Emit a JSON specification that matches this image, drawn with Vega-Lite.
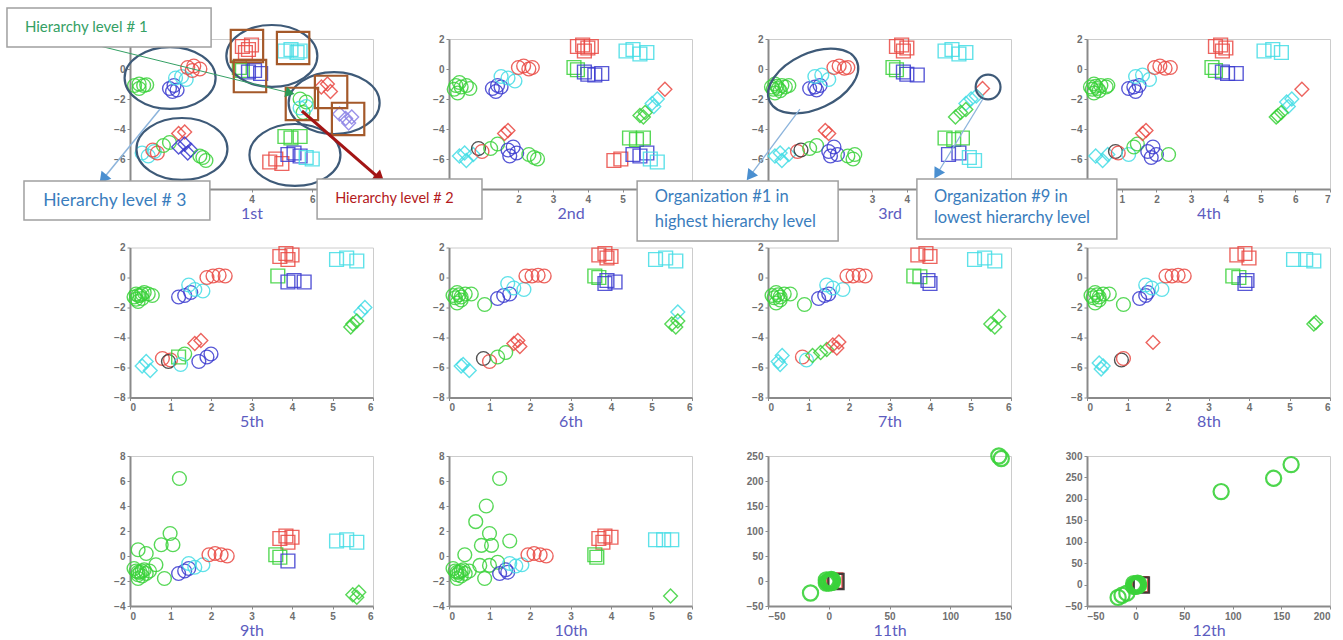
{
"$schema": "https://vega.github.io/schema/vega-lite/v6.json",
"background": "white",
"padding": {"left": 5, "top": 6, "right": 0, "bottom": 0},
"bounds": "flush",
"columns": 4,
"spacing": {"row": 58.5, "column": 76},
"config": {
  "view": {"stroke": "#cccccc", "strokeWidth": 1},
  "font": "Lato",
  "axis": {"grid": false, "domainColor": "#8a8a8a", "domainWidth": 2, "tickColor": "#8a8a8a", "tickSize": 3, "labelColor": "#6f6f6f", "labelFont": "Liberation Sans", "labelFontSize": 10, "labelFontWeight": "bold", "labelPadding": 2, "titleColor": "#5c5cc0", "titleFont": "Lato", "titleFontSize": 16, "titleFontWeight": "normal", "titlePadding": 1}
},
"datasets": {
  "pts": [
    {"p":1,"x":0.15,"y":-1.1,"c":"g","m":"circle"},{"p":1,"x":0.3,"y":-1.0,"c":"g","m":"circle"},{"p":1,"x":0.45,"y":-1.1,"c":"g","m":"circle"},{"p":1,"x":0.55,"y":-1.05,"c":"g","m":"circle"},{"p":1,"x":0.3,"y":-1.3,"c":"g","m":"circle"},
    {"p":1,"x":1.3,"y":-1.3,"c":"b","m":"circle"},{"p":1,"x":1.45,"y":-1.1,"c":"b","m":"circle"},{"p":1,"x":1.55,"y":-1.4,"c":"b","m":"circle"},{"p":1,"x":1.4,"y":-1.5,"c":"b","m":"circle"},
    {"p":1,"x":1.5,"y":-0.6,"c":"c","m":"circle"},{"p":1,"x":1.7,"y":-0.5,"c":"c","m":"circle"},{"p":1,"x":1.85,"y":-0.7,"c":"c","m":"circle"},
    {"p":1,"x":1.9,"y":0.1,"c":"r","m":"circle"},{"p":1,"x":2.1,"y":0.2,"c":"r","m":"circle"},{"p":1,"x":2.3,"y":0.0,"c":"r","m":"circle"},{"p":1,"x":2.05,"y":-0.1,"c":"r","m":"circle"},
    {"p":1,"x":0.4,"y":-5.6,"c":"c","m":"circle"},{"p":1,"x":0.6,"y":-5.8,"c":"c","m":"circle"},{"p":1,"x":0.8,"y":-5.5,"c":"c","m":"circle"},
    {"p":1,"x":0.75,"y":-5.4,"c":"r","m":"circle"},{"p":1,"x":0.9,"y":-5.6,"c":"r","m":"circle"},
    {"p":1,"x":1.1,"y":-5.1,"c":"g","m":"circle"},{"p":1,"x":1.3,"y":-4.9,"c":"g","m":"circle"},
    {"p":1,"x":1.6,"y":-4.3,"c":"r","m":"diamond"},{"p":1,"x":1.8,"y":-4.2,"c":"r","m":"diamond"},
    {"p":1,"x":1.6,"y":-5.2,"c":"b","m":"diamond"},{"p":1,"x":1.8,"y":-5.0,"c":"b","m":"diamond"},{"p":1,"x":2.0,"y":-5.4,"c":"b","m":"diamond"},{"p":1,"x":1.9,"y":-5.6,"c":"b","m":"diamond"},
    {"p":1,"x":2.3,"y":-5.8,"c":"g","m":"circle"},{"p":1,"x":2.5,"y":-6.1,"c":"g","m":"circle"},{"p":1,"x":2.4,"y":-5.9,"c":"g","m":"circle"},
    {"p":1,"x":3.7,"y":1.5,"c":"r","m":"square"},{"p":1,"x":3.9,"y":1.3,"c":"r","m":"square"},{"p":1,"x":4.0,"y":1.6,"c":"r","m":"square"},{"p":1,"x":3.8,"y":1.1,"c":"r","m":"square"},
    {"p":1,"x":5.1,"y":1.2,"c":"c","m":"square"},{"p":1,"x":5.3,"y":1.3,"c":"c","m":"square"},{"p":1,"x":5.5,"y":1.1,"c":"c","m":"square"},{"p":1,"x":5.6,"y":1.2,"c":"c","m":"square"},
    {"p":1,"x":3.6,"y":0.1,"c":"g","m":"square"},{"p":1,"x":3.7,"y":-0.1,"c":"g","m":"square"},
    {"p":1,"x":3.9,"y":-0.2,"c":"b","m":"square"},{"p":1,"x":4.1,"y":-0.1,"c":"b","m":"square"},{"p":1,"x":4.3,"y":-0.3,"c":"b","m":"square"},
    {"p":1,"x":5.6,"y":-2.0,"c":"g","m":"circle"},{"p":1,"x":5.8,"y":-2.2,"c":"g","m":"circle"},{"p":1,"x":5.7,"y":-2.9,"c":"g","m":"circle"},
    {"p":1,"x":5.6,"y":-2.6,"c":"c","m":"circle"},{"p":1,"x":5.8,"y":-2.5,"c":"c","m":"circle"},
    {"p":1,"x":6.3,"y":-1.2,"c":"r","m":"diamond"},{"p":1,"x":6.5,"y":-1.0,"c":"r","m":"diamond"},{"p":1,"x":6.6,"y":-1.5,"c":"r","m":"diamond"},
    {"p":1,"x":6.9,"y":-3.0,"c":"pu","m":"diamond"},{"p":1,"x":7.1,"y":-3.3,"c":"pu","m":"diamond"},{"p":1,"x":7.3,"y":-3.2,"c":"pu","m":"diamond"},{"p":1,"x":7.2,"y":-3.6,"c":"pu","m":"diamond"},
    {"p":1,"x":5.1,"y":-4.5,"c":"g","m":"square"},{"p":1,"x":5.3,"y":-4.6,"c":"g","m":"square"},{"p":1,"x":5.6,"y":-4.5,"c":"g","m":"square"},
    {"p":1,"x":4.6,"y":-6.2,"c":"r","m":"square"},{"p":1,"x":4.8,"y":-6.0,"c":"r","m":"square"},{"p":1,"x":5.0,"y":-6.3,"c":"r","m":"square"},
    {"p":1,"x":5.2,"y":-5.7,"c":"b","m":"square"},{"p":1,"x":5.4,"y":-5.6,"c":"b","m":"square"},{"p":1,"x":5.6,"y":-5.8,"c":"b","m":"square"},
    {"p":1,"x":5.8,"y":-5.9,"c":"c","m":"square"},{"p":1,"x":6.0,"y":-6.0,"c":"c","m":"square"},

    {"p":2,"x":0.2,"y":-1.1,"c":"g","m":"circle"},{"p":2,"x":0.35,"y":-1.2,"c":"g","m":"circle"},{"p":2,"x":0.5,"y":-1.1,"c":"g","m":"circle"},{"p":2,"x":0.25,"y":-1.6,"c":"g","m":"circle"},{"p":2,"x":0.6,"y":-1.3,"c":"g","m":"circle"},{"p":2,"x":0.3,"y":-0.9,"c":"g","m":"circle"},{"p":2,"x":0.15,"y":-1.35,"c":"g","m":"circle"},
    {"p":2,"x":1.25,"y":-1.3,"c":"b","m":"circle"},{"p":2,"x":1.4,"y":-1.1,"c":"b","m":"circle"},{"p":2,"x":1.5,"y":-1.2,"c":"b","m":"circle"},{"p":2,"x":1.35,"y":-1.5,"c":"b","m":"circle"},
    {"p":2,"x":1.5,"y":-0.5,"c":"c","m":"circle"},{"p":2,"x":1.7,"y":-0.6,"c":"c","m":"circle"},{"p":2,"x":1.9,"y":-0.8,"c":"c","m":"circle"},
    {"p":2,"x":2.0,"y":0.1,"c":"r","m":"circle"},{"p":2,"x":2.15,"y":0.2,"c":"r","m":"circle"},{"p":2,"x":2.3,"y":0.0,"c":"r","m":"circle"},{"p":2,"x":2.4,"y":0.1,"c":"r","m":"circle"},
    {"p":2,"x":0.3,"y":-5.8,"c":"c","m":"diamond"},{"p":2,"x":0.5,"y":-6.1,"c":"c","m":"diamond"},{"p":2,"x":0.7,"y":-5.7,"c":"c","m":"diamond"},{"p":2,"x":0.45,"y":-5.6,"c":"c","m":"diamond"},
    {"p":2,"x":0.85,"y":-5.3,"c":"k","m":"circle"},{"p":2,"x":0.95,"y":-5.5,"c":"r","m":"circle"},
    {"p":2,"x":1.2,"y":-5.3,"c":"g","m":"circle"},{"p":2,"x":1.4,"y":-5.0,"c":"g","m":"circle"},
    {"p":2,"x":1.6,"y":-4.3,"c":"r","m":"diamond"},{"p":2,"x":1.7,"y":-4.1,"c":"r","m":"diamond"},
    {"p":2,"x":1.7,"y":-5.4,"c":"b","m":"circle"},{"p":2,"x":1.85,"y":-5.2,"c":"b","m":"circle"},{"p":2,"x":1.95,"y":-5.6,"c":"b","m":"circle"},{"p":2,"x":1.75,"y":-5.8,"c":"b","m":"circle"},
    {"p":2,"x":2.3,"y":-5.7,"c":"g","m":"circle"},{"p":2,"x":2.45,"y":-5.9,"c":"g","m":"circle"},{"p":2,"x":2.55,"y":-6.0,"c":"g","m":"circle"},
    {"p":2,"x":3.7,"y":1.5,"c":"r","m":"square"},{"p":2,"x":3.85,"y":1.6,"c":"r","m":"square"},{"p":2,"x":4.0,"y":1.4,"c":"r","m":"square"},{"p":2,"x":3.9,"y":1.2,"c":"r","m":"square"},{"p":2,"x":4.1,"y":1.5,"c":"r","m":"square"},
    {"p":2,"x":3.6,"y":0.1,"c":"g","m":"square"},{"p":2,"x":3.7,"y":-0.05,"c":"g","m":"square"},
    {"p":2,"x":3.9,"y":-0.2,"c":"b","m":"square"},{"p":2,"x":4.0,"y":-0.35,"c":"b","m":"square"},{"p":2,"x":4.2,"y":-0.4,"c":"b","m":"square"},{"p":2,"x":4.4,"y":-0.3,"c":"b","m":"square"},
    {"p":2,"x":5.1,"y":1.2,"c":"c","m":"square"},{"p":2,"x":5.3,"y":1.3,"c":"c","m":"square"},{"p":2,"x":5.5,"y":1.0,"c":"c","m":"square"},{"p":2,"x":5.7,"y":1.1,"c":"c","m":"square"},
    {"p":2,"x":6.22,"y":-1.35,"c":"r","m":"diamond"},
    {"p":2,"x":5.85,"y":-2.3,"c":"c","m":"diamond"},{"p":2,"x":6.0,"y":-2.0,"c":"c","m":"diamond"},{"p":2,"x":5.9,"y":-2.5,"c":"c","m":"diamond"},
    {"p":2,"x":5.5,"y":-3.1,"c":"g","m":"diamond"},{"p":2,"x":5.65,"y":-2.9,"c":"g","m":"diamond"},{"p":2,"x":5.6,"y":-3.2,"c":"g","m":"diamond"},
    {"p":2,"x":5.2,"y":-4.6,"c":"g","m":"square"},{"p":2,"x":5.4,"y":-4.7,"c":"g","m":"square"},{"p":2,"x":5.6,"y":-4.6,"c":"g","m":"square"},
    {"p":2,"x":4.75,"y":-6.1,"c":"r","m":"square"},{"p":2,"x":4.95,"y":-6.0,"c":"r","m":"square"},
    {"p":2,"x":5.3,"y":-5.7,"c":"b","m":"square"},{"p":2,"x":5.5,"y":-5.8,"c":"b","m":"square"},{"p":2,"x":5.7,"y":-5.6,"c":"b","m":"square"},
    {"p":2,"x":5.8,"y":-6.0,"c":"c","m":"square"},{"p":2,"x":6.0,"y":-6.2,"c":"c","m":"square"},

    {"p":3,"x":0.1,"y":-1.2,"c":"g","m":"circle"},{"p":3,"x":0.2,"y":-1.0,"c":"g","m":"circle"},{"p":3,"x":0.3,"y":-1.3,"c":"g","m":"circle"},{"p":3,"x":0.4,"y":-1.1,"c":"g","m":"circle"},{"p":3,"x":0.5,"y":-1.2,"c":"g","m":"circle"},{"p":3,"x":0.2,"y":-1.6,"c":"g","m":"circle"},{"p":3,"x":0.6,"y":-1.1,"c":"g","m":"circle"},{"p":3,"x":0.15,"y":-1.35,"c":"g","m":"circle"},{"p":3,"x":0.25,"y":-1.15,"c":"g","m":"circle"},{"p":3,"x":0.35,"y":-1.45,"c":"g","m":"circle"},
    {"p":3,"x":1.2,"y":-1.3,"c":"b","m":"circle"},{"p":3,"x":1.35,"y":-1.2,"c":"b","m":"circle"},{"p":3,"x":1.5,"y":-1.1,"c":"b","m":"circle"},{"p":3,"x":1.4,"y":-1.4,"c":"b","m":"circle"},
    {"p":3,"x":1.35,"y":-0.5,"c":"c","m":"circle"},{"p":3,"x":1.55,"y":-0.4,"c":"c","m":"circle"},{"p":3,"x":1.75,"y":-0.7,"c":"c","m":"circle"},
    {"p":3,"x":1.9,"y":0.1,"c":"r","m":"circle"},{"p":3,"x":2.05,"y":0.2,"c":"r","m":"circle"},{"p":3,"x":2.2,"y":0.05,"c":"r","m":"circle"},{"p":3,"x":2.3,"y":0.1,"c":"r","m":"circle"},
    {"p":3,"x":0.2,"y":-5.8,"c":"c","m":"diamond"},{"p":3,"x":0.4,"y":-6.1,"c":"c","m":"diamond"},{"p":3,"x":0.6,"y":-5.7,"c":"c","m":"diamond"},{"p":3,"x":0.35,"y":-5.6,"c":"c","m":"diamond"},
    {"p":3,"x":0.85,"y":-5.5,"c":"r","m":"circle"},{"p":3,"x":0.95,"y":-5.4,"c":"k","m":"circle"},
    {"p":3,"x":1.2,"y":-5.3,"c":"g","m":"circle"},{"p":3,"x":1.4,"y":-5.1,"c":"g","m":"circle"},
    {"p":3,"x":1.65,"y":-4.1,"c":"r","m":"diamond"},{"p":3,"x":1.75,"y":-4.3,"c":"r","m":"diamond"},
    {"p":3,"x":1.75,"y":-5.5,"c":"b","m":"circle"},{"p":3,"x":1.9,"y":-5.2,"c":"b","m":"circle"},{"p":3,"x":2.0,"y":-5.7,"c":"b","m":"circle"},{"p":3,"x":1.8,"y":-5.8,"c":"b","m":"circle"},
    {"p":3,"x":2.3,"y":-5.8,"c":"g","m":"circle"},{"p":3,"x":2.45,"y":-6.0,"c":"g","m":"circle"},{"p":3,"x":2.5,"y":-5.7,"c":"g","m":"circle"},
    {"p":3,"x":3.7,"y":1.5,"c":"r","m":"square"},{"p":3,"x":3.85,"y":1.6,"c":"r","m":"square"},{"p":3,"x":4.0,"y":1.4,"c":"r","m":"square"},{"p":3,"x":3.9,"y":1.2,"c":"r","m":"square"},
    {"p":3,"x":3.6,"y":0.1,"c":"g","m":"square"},{"p":3,"x":3.7,"y":-0.05,"c":"g","m":"square"},
    {"p":3,"x":3.9,"y":-0.2,"c":"b","m":"square"},{"p":3,"x":4.0,"y":-0.35,"c":"b","m":"square"},{"p":3,"x":4.3,"y":-0.4,"c":"b","m":"square"},
    {"p":3,"x":5.1,"y":1.2,"c":"c","m":"square"},{"p":3,"x":5.3,"y":1.3,"c":"c","m":"square"},{"p":3,"x":5.5,"y":1.0,"c":"c","m":"square"},{"p":3,"x":5.7,"y":1.1,"c":"c","m":"square"},
    {"p":3,"x":6.18,"y":-1.3,"c":"r","m":"diamond"},
    {"p":3,"x":5.7,"y":-2.3,"c":"c","m":"diamond"},{"p":3,"x":5.85,"y":-2.0,"c":"c","m":"diamond"},{"p":3,"x":6.0,"y":-1.8,"c":"c","m":"diamond"},
    {"p":3,"x":5.4,"y":-3.2,"c":"g","m":"diamond"},{"p":3,"x":5.55,"y":-2.9,"c":"g","m":"diamond"},{"p":3,"x":5.7,"y":-2.7,"c":"g","m":"diamond"},
    {"p":3,"x":5.1,"y":-4.6,"c":"g","m":"square"},{"p":3,"x":5.35,"y":-4.7,"c":"g","m":"square"},{"p":3,"x":5.6,"y":-4.6,"c":"g","m":"square"},
    {"p":3,"x":5.2,"y":-5.7,"c":"b","m":"square"},{"p":3,"x":5.5,"y":-5.6,"c":"b","m":"square"},
    {"p":3,"x":5.8,"y":-5.9,"c":"c","m":"square"},{"p":3,"x":5.95,"y":-6.1,"c":"c","m":"square"},

    {"p":4,"x":0.1,"y":-1.2,"c":"g","m":"circle"},{"p":4,"x":0.2,"y":-1.0,"c":"g","m":"circle"},{"p":4,"x":0.3,"y":-1.3,"c":"g","m":"circle"},{"p":4,"x":0.4,"y":-1.1,"c":"g","m":"circle"},{"p":4,"x":0.55,"y":-1.2,"c":"g","m":"circle"},{"p":4,"x":0.2,"y":-1.6,"c":"g","m":"circle"},{"p":4,"x":0.6,"y":-1.1,"c":"g","m":"circle"},{"p":4,"x":0.15,"y":-1.35,"c":"g","m":"circle"},{"p":4,"x":0.25,"y":-1.15,"c":"g","m":"circle"},{"p":4,"x":0.35,"y":-1.45,"c":"g","m":"circle"},
    {"p":4,"x":1.2,"y":-1.3,"c":"b","m":"circle"},{"p":4,"x":1.35,"y":-1.2,"c":"b","m":"circle"},{"p":4,"x":1.5,"y":-1.1,"c":"b","m":"circle"},{"p":4,"x":1.4,"y":-1.5,"c":"b","m":"circle"},
    {"p":4,"x":1.4,"y":-0.5,"c":"c","m":"circle"},{"p":4,"x":1.6,"y":-0.4,"c":"c","m":"circle"},{"p":4,"x":1.8,"y":-0.7,"c":"c","m":"circle"},
    {"p":4,"x":1.95,"y":0.1,"c":"r","m":"circle"},{"p":4,"x":2.1,"y":0.2,"c":"r","m":"circle"},{"p":4,"x":2.25,"y":0.05,"c":"r","m":"circle"},{"p":4,"x":2.4,"y":0.1,"c":"r","m":"circle"},
    {"p":4,"x":0.25,"y":-5.8,"c":"c","m":"diamond"},{"p":4,"x":0.45,"y":-6.1,"c":"c","m":"diamond"},{"p":4,"x":0.6,"y":-5.7,"c":"c","m":"diamond"},
    {"p":4,"x":0.82,"y":-5.5,"c":"k","m":"circle"},{"p":4,"x":0.9,"y":-5.6,"c":"r","m":"circle"},{"p":4,"x":1.2,"y":-5.7,"c":"c","m":"circle"},
    {"p":4,"x":1.35,"y":-5.2,"c":"g","m":"circle"},{"p":4,"x":1.45,"y":-5.0,"c":"g","m":"circle"},
    {"p":4,"x":1.6,"y":-4.3,"c":"r","m":"diamond"},{"p":4,"x":1.7,"y":-4.1,"c":"r","m":"diamond"},
    {"p":4,"x":1.75,"y":-5.5,"c":"b","m":"circle"},{"p":4,"x":1.9,"y":-5.2,"c":"b","m":"circle"},{"p":4,"x":2.0,"y":-5.7,"c":"b","m":"circle"},{"p":4,"x":1.85,"y":-5.9,"c":"b","m":"circle"},
    {"p":4,"x":2.35,"y":-5.7,"c":"g","m":"circle"},
    {"p":4,"x":3.7,"y":1.5,"c":"r","m":"square"},{"p":4,"x":3.85,"y":1.6,"c":"r","m":"square"},{"p":4,"x":4.0,"y":1.4,"c":"r","m":"square"},{"p":4,"x":3.9,"y":1.2,"c":"r","m":"square"},
    {"p":4,"x":3.6,"y":0.1,"c":"g","m":"square"},{"p":4,"x":3.7,"y":-0.1,"c":"g","m":"square"},
    {"p":4,"x":3.9,"y":-0.2,"c":"b","m":"square"},{"p":4,"x":4.05,"y":-0.3,"c":"b","m":"square"},{"p":4,"x":4.3,"y":-0.3,"c":"b","m":"square"},
    {"p":4,"x":5.1,"y":1.2,"c":"c","m":"square"},{"p":4,"x":5.35,"y":1.3,"c":"c","m":"square"},{"p":4,"x":5.6,"y":1.1,"c":"c","m":"square"},
    {"p":4,"x":6.19,"y":-1.35,"c":"r","m":"diamond"},
    {"p":4,"x":5.75,"y":-2.2,"c":"c","m":"diamond"},{"p":4,"x":5.9,"y":-2.0,"c":"c","m":"diamond"},{"p":4,"x":5.8,"y":-2.5,"c":"c","m":"diamond"},
    {"p":4,"x":5.5,"y":-3.1,"c":"g","m":"diamond"},{"p":4,"x":5.6,"y":-2.9,"c":"g","m":"diamond"},{"p":4,"x":5.45,"y":-3.2,"c":"g","m":"diamond"},

    {"p":5,"x":0.15,"y":-1.1,"c":"g","m":"circle"},{"p":5,"x":0.25,"y":-1.2,"c":"g","m":"circle"},{"p":5,"x":0.35,"y":-1.0,"c":"g","m":"circle"},{"p":5,"x":0.45,"y":-1.1,"c":"g","m":"circle"},{"p":5,"x":0.2,"y":-1.6,"c":"g","m":"circle"},{"p":5,"x":0.55,"y":-1.2,"c":"g","m":"circle"},{"p":5,"x":0.3,"y":-1.4,"c":"g","m":"circle"},{"p":5,"x":0.1,"y":-1.3,"c":"g","m":"circle"},{"p":5,"x":0.2,"y":-1.2,"c":"g","m":"circle"},{"p":5,"x":0.3,"y":-1.1,"c":"g","m":"circle"},{"p":5,"x":0.15,"y":-1.45,"c":"g","m":"circle"},
    {"p":5,"x":1.2,"y":-1.3,"c":"b","m":"circle"},{"p":5,"x":1.35,"y":-1.2,"c":"b","m":"circle"},{"p":5,"x":1.5,"y":-1.0,"c":"b","m":"circle"},
    {"p":5,"x":1.45,"y":-0.5,"c":"c","m":"circle"},{"p":5,"x":1.6,"y":-0.8,"c":"c","m":"circle"},{"p":5,"x":1.8,"y":-0.9,"c":"c","m":"circle"},
    {"p":5,"x":1.9,"y":0.0,"c":"r","m":"circle"},{"p":5,"x":2.05,"y":0.1,"c":"r","m":"circle"},{"p":5,"x":2.2,"y":0.15,"c":"r","m":"circle"},{"p":5,"x":2.35,"y":0.1,"c":"r","m":"circle"},
    {"p":5,"x":0.3,"y":-5.9,"c":"c","m":"diamond"},{"p":5,"x":0.5,"y":-6.2,"c":"c","m":"diamond"},{"p":5,"x":0.4,"y":-5.6,"c":"c","m":"diamond"},
    {"p":5,"x":0.8,"y":-5.4,"c":"r","m":"circle"},{"p":5,"x":1.0,"y":-5.5,"c":"r","m":"circle"},{"p":5,"x":0.95,"y":-5.6,"c":"k","m":"circle"},
    {"p":5,"x":1.2,"y":-5.3,"c":"g","m":"square"},{"p":5,"x":1.35,"y":-5.1,"c":"g","m":"circle"},{"p":5,"x":1.25,"y":-5.8,"c":"c","m":"circle"},
    {"p":5,"x":1.6,"y":-4.4,"c":"r","m":"diamond"},{"p":5,"x":1.75,"y":-4.2,"c":"r","m":"diamond"},
    {"p":5,"x":1.7,"y":-5.6,"c":"b","m":"circle"},{"p":5,"x":1.9,"y":-5.3,"c":"b","m":"circle"},{"p":5,"x":2.0,"y":-5.1,"c":"b","m":"circle"},
    {"p":5,"x":3.7,"y":1.4,"c":"r","m":"square"},{"p":5,"x":3.85,"y":1.6,"c":"r","m":"square"},{"p":5,"x":4.0,"y":1.5,"c":"r","m":"square"},{"p":5,"x":3.9,"y":1.2,"c":"r","m":"square"},
    {"p":5,"x":3.65,"y":0.1,"c":"g","m":"square"},
    {"p":5,"x":3.9,"y":-0.3,"c":"b","m":"square"},{"p":5,"x":4.05,"y":-0.2,"c":"b","m":"square"},{"p":5,"x":4.3,"y":-0.3,"c":"b","m":"square"},
    {"p":5,"x":5.1,"y":1.2,"c":"c","m":"square"},{"p":5,"x":5.35,"y":1.3,"c":"c","m":"square"},{"p":5,"x":5.6,"y":1.1,"c":"c","m":"square"},
    {"p":5,"x":5.8,"y":-2.0,"c":"c","m":"diamond"},{"p":5,"x":5.7,"y":-2.3,"c":"c","m":"diamond"},
    {"p":5,"x":5.5,"y":-3.1,"c":"g","m":"diamond"},{"p":5,"x":5.6,"y":-2.9,"c":"g","m":"diamond"},{"p":5,"x":5.45,"y":-3.3,"c":"g","m":"diamond"},

    {"p":6,"x":0.1,"y":-1.2,"c":"g","m":"circle"},{"p":6,"x":0.2,"y":-1.0,"c":"g","m":"circle"},{"p":6,"x":0.3,"y":-1.3,"c":"g","m":"circle"},{"p":6,"x":0.4,"y":-1.1,"c":"g","m":"circle"},{"p":6,"x":0.2,"y":-1.7,"c":"g","m":"circle"},{"p":6,"x":0.55,"y":-1.1,"c":"g","m":"circle"},{"p":6,"x":0.3,"y":-1.5,"c":"g","m":"circle"},{"p":6,"x":0.15,"y":-1.35,"c":"g","m":"circle"},{"p":6,"x":0.25,"y":-1.15,"c":"g","m":"circle"},{"p":6,"x":0.88,"y":-1.8,"c":"g","m":"circle"},
    {"p":6,"x":1.2,"y":-1.4,"c":"b","m":"circle"},{"p":6,"x":1.35,"y":-1.2,"c":"b","m":"circle"},{"p":6,"x":1.5,"y":-1.1,"c":"b","m":"circle"},
    {"p":6,"x":1.45,"y":-0.4,"c":"c","m":"circle"},{"p":6,"x":1.6,"y":-0.7,"c":"c","m":"circle"},{"p":6,"x":1.85,"y":-0.8,"c":"c","m":"circle"},
    {"p":6,"x":1.9,"y":0.1,"c":"r","m":"circle"},{"p":6,"x":2.05,"y":0.1,"c":"r","m":"circle"},{"p":6,"x":2.2,"y":0.15,"c":"r","m":"circle"},{"p":6,"x":2.35,"y":0.1,"c":"r","m":"circle"},
    {"p":6,"x":0.3,"y":-5.9,"c":"c","m":"diamond"},{"p":6,"x":0.5,"y":-6.2,"c":"c","m":"diamond"},{"p":6,"x":0.35,"y":-5.8,"c":"c","m":"diamond"},
    {"p":6,"x":0.85,"y":-5.4,"c":"k","m":"circle"},{"p":6,"x":1.0,"y":-5.6,"c":"r","m":"circle"},
    {"p":6,"x":1.2,"y":-5.3,"c":"g","m":"circle"},{"p":6,"x":1.4,"y":-5.0,"c":"g","m":"circle"},
    {"p":6,"x":1.6,"y":-4.4,"c":"r","m":"diamond"},{"p":6,"x":1.7,"y":-4.2,"c":"r","m":"diamond"},{"p":6,"x":1.75,"y":-4.6,"c":"r","m":"diamond"},
    {"p":6,"x":3.7,"y":1.5,"c":"r","m":"square"},{"p":6,"x":3.85,"y":1.6,"c":"r","m":"square"},{"p":6,"x":4.0,"y":1.4,"c":"r","m":"square"},{"p":6,"x":3.9,"y":1.3,"c":"r","m":"square"},
    {"p":6,"x":3.6,"y":0.1,"c":"g","m":"square"},{"p":6,"x":3.7,"y":0.0,"c":"g","m":"square"},
    {"p":6,"x":3.9,"y":-0.2,"c":"b","m":"square"},{"p":6,"x":4.1,"y":-0.3,"c":"b","m":"square"},{"p":6,"x":3.85,"y":-0.4,"c":"b","m":"square"},
    {"p":6,"x":5.1,"y":1.2,"c":"c","m":"square"},{"p":6,"x":5.35,"y":1.3,"c":"c","m":"square"},{"p":6,"x":5.6,"y":1.1,"c":"c","m":"square"},
    {"p":6,"x":5.65,"y":-2.3,"c":"c","m":"diamond"},
    {"p":6,"x":5.5,"y":-3.1,"c":"g","m":"diamond"},{"p":6,"x":5.65,"y":-2.9,"c":"g","m":"diamond"},{"p":6,"x":5.6,"y":-3.3,"c":"g","m":"diamond"},

    {"p":7,"x":0.1,"y":-1.2,"c":"g","m":"circle"},{"p":7,"x":0.2,"y":-1.0,"c":"g","m":"circle"},{"p":7,"x":0.3,"y":-1.3,"c":"g","m":"circle"},{"p":7,"x":0.4,"y":-1.1,"c":"g","m":"circle"},{"p":7,"x":0.2,"y":-1.7,"c":"g","m":"circle"},{"p":7,"x":0.55,"y":-1.1,"c":"g","m":"circle"},{"p":7,"x":0.3,"y":-1.5,"c":"g","m":"circle"},{"p":7,"x":0.15,"y":-1.35,"c":"g","m":"circle"},{"p":7,"x":0.25,"y":-1.15,"c":"g","m":"circle"},{"p":7,"x":0.9,"y":-1.8,"c":"g","m":"circle"},
    {"p":7,"x":1.25,"y":-1.4,"c":"b","m":"circle"},{"p":7,"x":1.4,"y":-1.2,"c":"b","m":"circle"},{"p":7,"x":1.5,"y":-1.1,"c":"b","m":"circle"},
    {"p":7,"x":1.45,"y":-0.5,"c":"c","m":"circle"},{"p":7,"x":1.6,"y":-0.7,"c":"c","m":"circle"},{"p":7,"x":1.85,"y":-0.8,"c":"c","m":"circle"},
    {"p":7,"x":1.95,"y":0.1,"c":"r","m":"circle"},{"p":7,"x":2.1,"y":0.1,"c":"r","m":"circle"},{"p":7,"x":2.25,"y":0.15,"c":"r","m":"circle"},{"p":7,"x":2.4,"y":0.1,"c":"r","m":"circle"},
    {"p":7,"x":0.25,"y":-5.6,"c":"c","m":"diamond"},{"p":7,"x":0.35,"y":-5.2,"c":"c","m":"diamond"},{"p":7,"x":0.3,"y":-5.8,"c":"c","m":"diamond"},
    {"p":7,"x":0.85,"y":-5.3,"c":"r","m":"circle"},{"p":7,"x":0.95,"y":-5.5,"c":"c","m":"circle"},
    {"p":7,"x":1.1,"y":-5.2,"c":"g","m":"diamond"},{"p":7,"x":1.3,"y":-5.0,"c":"g","m":"diamond"},{"p":7,"x":1.45,"y":-4.8,"c":"g","m":"diamond"},
    {"p":7,"x":1.6,"y":-4.5,"c":"r","m":"diamond"},{"p":7,"x":1.75,"y":-4.3,"c":"r","m":"diamond"},{"p":7,"x":1.7,"y":-4.7,"c":"r","m":"diamond"},
    {"p":7,"x":3.7,"y":1.5,"c":"r","m":"square"},{"p":7,"x":3.9,"y":1.6,"c":"r","m":"square"},{"p":7,"x":4.0,"y":1.4,"c":"r","m":"square"},
    {"p":7,"x":3.6,"y":0.1,"c":"g","m":"square"},{"p":7,"x":3.75,"y":0.05,"c":"g","m":"square"},
    {"p":7,"x":3.95,"y":-0.2,"c":"b","m":"square"},{"p":7,"x":4.0,"y":-0.4,"c":"b","m":"square"},
    {"p":7,"x":5.1,"y":1.2,"c":"c","m":"square"},{"p":7,"x":5.35,"y":1.3,"c":"c","m":"square"},{"p":7,"x":5.6,"y":1.1,"c":"c","m":"square"},
    {"p":7,"x":5.5,"y":-3.1,"c":"g","m":"diamond"},{"p":7,"x":5.7,"y":-2.6,"c":"g","m":"diamond"},{"p":7,"x":5.6,"y":-3.3,"c":"g","m":"diamond"},

    {"p":8,"x":0.1,"y":-1.2,"c":"g","m":"circle"},{"p":8,"x":0.2,"y":-1.0,"c":"g","m":"circle"},{"p":8,"x":0.3,"y":-1.3,"c":"g","m":"circle"},{"p":8,"x":0.4,"y":-1.1,"c":"g","m":"circle"},{"p":8,"x":0.2,"y":-1.7,"c":"g","m":"circle"},{"p":8,"x":0.55,"y":-1.1,"c":"g","m":"circle"},{"p":8,"x":0.3,"y":-1.5,"c":"g","m":"circle"},{"p":8,"x":0.15,"y":-1.35,"c":"g","m":"circle"},{"p":8,"x":0.25,"y":-1.15,"c":"g","m":"circle"},{"p":8,"x":0.9,"y":-1.8,"c":"g","m":"circle"},
    {"p":8,"x":1.3,"y":-1.4,"c":"b","m":"circle"},{"p":8,"x":1.45,"y":-1.2,"c":"b","m":"circle"},{"p":8,"x":1.5,"y":-1.0,"c":"b","m":"circle"},
    {"p":8,"x":1.45,"y":-0.5,"c":"c","m":"circle"},{"p":8,"x":1.6,"y":-0.7,"c":"c","m":"circle"},{"p":8,"x":1.85,"y":-0.8,"c":"c","m":"circle"},
    {"p":8,"x":1.95,"y":0.1,"c":"r","m":"circle"},{"p":8,"x":2.1,"y":0.1,"c":"r","m":"circle"},{"p":8,"x":2.25,"y":0.15,"c":"r","m":"circle"},{"p":8,"x":2.4,"y":0.1,"c":"r","m":"circle"},
    {"p":8,"x":0.3,"y":-5.7,"c":"c","m":"diamond"},{"p":8,"x":0.35,"y":-6.1,"c":"c","m":"diamond"},{"p":8,"x":0.4,"y":-5.9,"c":"c","m":"diamond"},
    {"p":8,"x":0.85,"y":-5.5,"c":"k","m":"circle"},{"p":8,"x":0.9,"y":-5.4,"c":"r","m":"circle"},
    {"p":8,"x":1.63,"y":-4.33,"c":"r","m":"diamond"},
    {"p":8,"x":3.7,"y":1.5,"c":"r","m":"square"},{"p":8,"x":3.9,"y":1.6,"c":"r","m":"square"},{"p":8,"x":4.0,"y":1.3,"c":"r","m":"square"},
    {"p":8,"x":3.6,"y":0.1,"c":"g","m":"square"},{"p":8,"x":3.75,"y":0.0,"c":"g","m":"square"},
    {"p":8,"x":3.95,"y":-0.2,"c":"b","m":"square"},{"p":8,"x":3.9,"y":-0.4,"c":"b","m":"square"},
    {"p":8,"x":5.1,"y":1.2,"c":"c","m":"square"},{"p":8,"x":5.4,"y":1.2,"c":"c","m":"square"},{"p":8,"x":5.6,"y":1.1,"c":"c","m":"square"},
    {"p":8,"x":5.6,"y":-3.1,"c":"g","m":"diamond"},{"p":8,"x":5.65,"y":-3.0,"c":"g","m":"diamond"},

    {"p":9,"x":0.15,"y":-1.2,"c":"g","m":"circle"},{"p":9,"x":0.2,"y":-1.5,"c":"g","m":"circle"},{"p":9,"x":0.25,"y":-1.3,"c":"g","m":"circle"},{"p":9,"x":0.3,"y":-1.6,"c":"g","m":"circle"},{"p":9,"x":0.2,"y":-1.8,"c":"g","m":"circle"},{"p":9,"x":0.35,"y":-1.1,"c":"g","m":"circle"},{"p":9,"x":0.4,"y":-1.4,"c":"g","m":"circle"},{"p":9,"x":0.1,"y":-1.0,"c":"g","m":"circle"},{"p":9,"x":0.2,"y":-1.3,"c":"g","m":"circle"},{"p":9,"x":0.3,"y":-1.2,"c":"g","m":"circle"},
    {"p":9,"x":1.22,"y":6.2,"c":"g","m":"circle"},{"p":9,"x":0.99,"y":1.8,"c":"g","m":"circle"},{"p":9,"x":0.77,"y":0.9,"c":"g","m":"circle"},{"p":9,"x":1.06,"y":0.9,"c":"g","m":"circle"},{"p":9,"x":0.4,"y":0.2,"c":"g","m":"circle"},{"p":9,"x":0.64,"y":-0.7,"c":"g","m":"circle"},{"p":9,"x":0.85,"y":-1.8,"c":"g","m":"circle"},{"p":9,"x":0.48,"y":-1.2,"c":"g","m":"circle"},{"p":9,"x":0.2,"y":0.5,"c":"g","m":"circle"},
    {"p":9,"x":1.2,"y":-1.4,"c":"b","m":"circle"},{"p":9,"x":1.35,"y":-1.2,"c":"b","m":"circle"},{"p":9,"x":1.45,"y":-1.0,"c":"b","m":"circle"},
    {"p":9,"x":1.45,"y":-0.6,"c":"c","m":"circle"},{"p":9,"x":1.6,"y":-0.9,"c":"c","m":"circle"},{"p":9,"x":1.8,"y":-0.7,"c":"c","m":"circle"},
    {"p":9,"x":1.95,"y":0.1,"c":"r","m":"circle"},{"p":9,"x":2.1,"y":0.2,"c":"r","m":"circle"},{"p":9,"x":2.25,"y":0.1,"c":"r","m":"circle"},{"p":9,"x":2.4,"y":0.0,"c":"r","m":"circle"},
    {"p":9,"x":3.7,"y":1.4,"c":"r","m":"square"},{"p":9,"x":3.85,"y":1.6,"c":"r","m":"square"},{"p":9,"x":4.0,"y":1.5,"c":"r","m":"square"},{"p":9,"x":3.9,"y":1.1,"c":"r","m":"square"},
    {"p":9,"x":3.6,"y":0.1,"c":"g","m":"square"},{"p":9,"x":3.7,"y":-0.1,"c":"g","m":"square"},
    {"p":9,"x":3.9,"y":-0.4,"c":"b","m":"square"},
    {"p":9,"x":5.1,"y":1.2,"c":"c","m":"square"},{"p":9,"x":5.35,"y":1.3,"c":"c","m":"square"},{"p":9,"x":5.6,"y":1.1,"c":"c","m":"square"},
    {"p":9,"x":5.5,"y":-3.1,"c":"g","m":"diamond"},{"p":9,"x":5.65,"y":-2.9,"c":"g","m":"diamond"},{"p":9,"x":5.6,"y":-3.3,"c":"g","m":"diamond"},

    {"p":10,"x":0.15,"y":-1.2,"c":"g","m":"circle"},{"p":10,"x":0.2,"y":-1.5,"c":"g","m":"circle"},{"p":10,"x":0.25,"y":-1.3,"c":"g","m":"circle"},{"p":10,"x":0.3,"y":-1.6,"c":"g","m":"circle"},{"p":10,"x":0.2,"y":-1.8,"c":"g","m":"circle"},{"p":10,"x":0.35,"y":-1.1,"c":"g","m":"circle"},{"p":10,"x":0.4,"y":-1.4,"c":"g","m":"circle"},{"p":10,"x":0.1,"y":-1.0,"c":"g","m":"circle"},{"p":10,"x":0.2,"y":-1.3,"c":"g","m":"circle"},{"p":10,"x":0.3,"y":-1.2,"c":"g","m":"circle"},
    {"p":10,"x":1.25,"y":6.2,"c":"g","m":"circle"},{"p":10,"x":0.92,"y":4.0,"c":"g","m":"circle"},{"p":10,"x":0.66,"y":2.75,"c":"g","m":"circle"},{"p":10,"x":1.0,"y":1.8,"c":"g","m":"circle"},{"p":10,"x":0.8,"y":0.85,"c":"g","m":"circle"},{"p":10,"x":1.05,"y":0.85,"c":"g","m":"circle"},{"p":10,"x":1.5,"y":1.2,"c":"g","m":"circle"},{"p":10,"x":0.39,"y":0.1,"c":"g","m":"circle"},{"p":10,"x":0.76,"y":-0.75,"c":"g","m":"circle"},{"p":10,"x":1.0,"y":-0.75,"c":"g","m":"circle"},{"p":10,"x":1.2,"y":-0.5,"c":"g","m":"circle"},{"p":10,"x":0.88,"y":-1.8,"c":"g","m":"circle"},{"p":10,"x":0.5,"y":-1.2,"c":"g","m":"circle"},
    {"p":10,"x":1.25,"y":-1.4,"c":"b","m":"circle"},{"p":10,"x":1.4,"y":-1.1,"c":"b","m":"circle"},{"p":10,"x":1.45,"y":-1.3,"c":"b","m":"circle"},
    {"p":10,"x":1.5,"y":-0.6,"c":"c","m":"circle"},{"p":10,"x":1.65,"y":-0.8,"c":"c","m":"circle"},{"p":10,"x":1.8,"y":-0.7,"c":"c","m":"circle"},
    {"p":10,"x":1.95,"y":0.1,"c":"r","m":"circle"},{"p":10,"x":2.1,"y":0.2,"c":"r","m":"circle"},{"p":10,"x":2.25,"y":0.1,"c":"r","m":"circle"},{"p":10,"x":2.4,"y":0.0,"c":"r","m":"circle"},
    {"p":10,"x":3.7,"y":1.4,"c":"r","m":"square"},{"p":10,"x":3.85,"y":1.6,"c":"r","m":"square"},{"p":10,"x":4.0,"y":1.5,"c":"r","m":"square"},{"p":10,"x":3.8,"y":1.1,"c":"r","m":"square"},
    {"p":10,"x":3.6,"y":0.1,"c":"g","m":"square"},{"p":10,"x":3.65,"y":-0.1,"c":"g","m":"square"},
    {"p":10,"x":5.1,"y":1.3,"c":"c","m":"square"},{"p":10,"x":5.3,"y":1.3,"c":"c","m":"square"},{"p":10,"x":5.5,"y":1.3,"c":"c","m":"square"},
    {"p":10,"x":5.47,"y":-3.2,"c":"g","m":"diamond"},

    {"p":11,"x":5,"y":0,"c":"r","m":"square"},{"p":11,"x":6,"y":-1,"c":"k","m":"square"},
    {"p":11,"x":0,"y":0,"c":"g","m":"circle"},{"p":11,"x":2,"y":-3,"c":"g","m":"circle"},{"p":11,"x":-2,"y":2,"c":"g","m":"circle"},{"p":11,"x":1,"y":1,"c":"g","m":"circle"},{"p":11,"x":3,"y":-2,"c":"g","m":"circle"},{"p":11,"x":-1,"y":-2,"c":"g","m":"circle"},{"p":11,"x":2,"y":3,"c":"g","m":"circle"},{"p":11,"x":0,"y":-4,"c":"g","m":"circle"},{"p":11,"x":-2,"y":-4,"c":"g","m":"circle"},{"p":11,"x":3,"y":2,"c":"g","m":"circle"},
    {"p":11,"x":-15,"y":-24,"c":"g","m":"circle"},{"p":11,"x":140,"y":250,"c":"g","m":"circle"},{"p":11,"x":142,"y":245,"c":"g","m":"circle"},

    {"p":12,"x":5,"y":0,"c":"r","m":"square"},{"p":12,"x":6,"y":-1,"c":"k","m":"square"},
    {"p":12,"x":0,"y":0,"c":"g","m":"circle"},{"p":12,"x":2,"y":-3,"c":"g","m":"circle"},{"p":12,"x":-2,"y":2,"c":"g","m":"circle"},{"p":12,"x":1,"y":1,"c":"g","m":"circle"},{"p":12,"x":3,"y":-2,"c":"g","m":"circle"},{"p":12,"x":-1,"y":-2,"c":"g","m":"circle"},{"p":12,"x":2,"y":3,"c":"g","m":"circle"},{"p":12,"x":0,"y":-4,"c":"g","m":"circle"},{"p":12,"x":-2,"y":-4,"c":"g","m":"circle"},{"p":12,"x":3,"y":2,"c":"g","m":"circle"},
    {"p":12,"x":-18,"y":-30,"c":"g","m":"circle"},{"p":12,"x":-14,"y":-25,"c":"g","m":"circle"},{"p":12,"x":-9,"y":-20,"c":"g","m":"circle"},{"p":12,"x":88,"y":217,"c":"g","m":"circle"},{"p":12,"x":142,"y":248,"c":"g","m":"circle"},{"p":12,"x":160,"y":280,"c":"g","m":"circle"}
  ],
  "ell": [
    {"p":1,"x":1.32,"y":-0.6},{"p":1,"x":1.71,"y":-5.33},{"p":1,"x":4.67,"y":0.87},{"p":1,"x":6.72,"y":-2.27},{"p":1,"x":5.43,"y":-5.73},
    {"p":3,"x":1.3,"y":-0.8}
  ],
  "bbox": [
    {"x":3.85,"y":1.53},{"x":5.37,"y":1.4},{"x":3.95,"y":-0.47},{"x":5.66,"y":-2.33},{"x":6.62,"y":-1.53},{"x":7.18,"y":-3.33}
  ],
  "ring": [{"x":6.34,"y":-1.2}],
  "arr": [
    {"id":"g1","x":5.27,"y":-1.6,"x0":-2.07,"y0":2.07},
    {"id":"b3","x":-0.89,"y":-7.33,"x0":0.99,"y0":-2.67},
    {"id":"r2","x":8.23,"y":-7.33,"x0":5.66,"y0":-2.8},
    {"id":"o1","x":-0.52,"y":-7.13,"x0":0.92,"y0":-2.67},
    {"id":"o9","x":4.87,"y":-7.0,"x0":6.19,"y0":-2.0}
  ],
  "boxes": [
    {"p":1,"x":-4.05,"x0":2.67,"y":4.07,"y0":1.47},
    {"p":1,"x":-3.49,"x0":2.63,"y":-7.47,"y0":-10.07},
    {"p":2,"x":-3.8,"x0":0.95,"y":-7.33,"y0":-10.0},
    {"p":3,"x":-3.77,"x0":2.02,"y":-7.47,"y0":-11.47},
    {"p":4,"x":-4.9,"x0":0.86,"y":-7.33,"y0":-11.33}
  ],
  "labels": [
    {"p":1,"x":-3.46,"y":2.8,"t":"Hierarchy level # 1"},
    {"p":1,"x":-2.86,"y":-8.8,"t":"Hierarchy level # 3"},
    {"p":2,"x":-3.28,"y":-8.67,"t":"Hierarchy level # 2"},
    {"p":3,"x":-3.26,"y":-8.55,"t":"Organization #1 in"},
    {"p":3,"x":-3.26,"y":-10.2,"t":"highest hierarchy level"},
    {"p":4,"x":-4.41,"y":-8.53,"t":"Organization #9 in"},
    {"p":4,"x":-4.41,"y":-9.95,"t":"lowest hierarchy level"}
  ]
},
"concat": [
  {"width":243,"height":150,
   "encoding":{
     "x":{"field":"x","type":"quantitative","scale":{"domain":[0,8],"nice":false,"zero":false},"axis":{"values":[4,6],"title":"1st"}},
     "y":{"field":"y","type":"quantitative","scale":{"domain":[-8,2],"nice":false,"zero":false},"axis":{"values":[-6,-4,-2,0],"title":null}}},
   "layer":[
     {"data":{"name":"pts"},"transform":[{"filter":"datum.p==1"}],"mark":{"type":"point","filled":false,"size":190,"strokeWidth":1.4,"opacity":0.85},
      "encoding":{"color":{"field":"c","type":"nominal","legend":null,"scale":{"domain":["r","g","b","c","k","pu"],"range":["#ea4a44","#3ad23a","#3b3bd0","#44dde6","#333333","#8a80e6"]}},
                  "shape":{"field":"m","type":"nominal","legend":null,"scale":{"domain":["circle","square","diamond"],"range":["circle","square","diamond"]}}}},
     {"data":{"name":"ell"},"transform":[{"filter":"datum.p==1"}],"mark":{"type":"point","shape":"M -1 0 A 1 0.68 0 1 0 1 0 A 1 0.68 0 1 0 -1 0 Z","size":8281,"filled":false,"color":"#3e5a78","stroke":"#3e5a78","strokeWidth":2.2,"opacity":1}},
     {"data":{"name":"bbox"},"mark":{"type":"point","shape":"square","size":1050,"filled":false,"color":"#a4592a","stroke":"#a4592a","strokeWidth":2.2,"opacity":1}},
     {"data":{"name":"arr"},"transform":[{"filter":"datum.id=='g1'"}],"mark":{"type":"rule","color":"#34a064","strokeWidth":1},"encoding":{"x2":{"field":"x0"},"y2":{"field":"y0"}}},
     {"data":{"name":"arr"},"transform":[{"filter":"datum.id=='g1'"}],"mark":{"type":"point","shape":"triangle-right","angle":14,"size":110,"filled":true,"color":"#2a9a55","opacity":1}},
     {"data":{"name":"arr"},"transform":[{"filter":"datum.id=='b3'"}],"mark":{"type":"rule","color":"#8cb4dc","strokeWidth":1.5},"encoding":{"x2":{"field":"x0"},"y2":{"field":"y0"}}},
     {"data":{"name":"arr"},"transform":[{"filter":"datum.id=='b3'"}],"mark":{"type":"point","shape":"triangle-right","angle":129,"size":160,"filled":true,"color":"#4a8fd0","opacity":1}},
     {"data":{"name":"arr"},"transform":[{"filter":"datum.id=='r2'"}],"mark":{"type":"rule","color":"#a31515","strokeWidth":3},"encoding":{"x2":{"field":"x0"},"y2":{"field":"y0"}}},
     {"data":{"name":"arr"},"transform":[{"filter":"datum.id=='r2'"}],"mark":{"type":"point","shape":"triangle-right","angle":41,"size":200,"filled":true,"color":"#a31515","opacity":1}},
     {"data":{"name":"boxes"},"transform":[{"filter":"datum.p==1"}],"mark":{"type":"rect","fill":"#ffffff","stroke":"#a0a0a0","strokeWidth":1.5},"encoding":{"x2":{"field":"x0"},"y2":{"field":"y0"}}},
     {"data":{"name":"labels"},"transform":[{"filter":"datum.t=='Hierarchy level # 1'"}],"mark":{"type":"text","align":"left","baseline":"middle","font":"Lato","fontSize":15,"color":"#34a064"},"encoding":{"text":{"field":"t"}}},
     {"data":{"name":"labels"},"transform":[{"filter":"datum.t=='Hierarchy level # 3'"}],"mark":{"type":"text","align":"left","baseline":"middle","font":"Lato","fontSize":17.5,"color":"#3a7dbd"},"encoding":{"text":{"field":"t"}}}
   ]},
  {"width":243,"height":150,
   "encoding":{
     "x":{"field":"x","type":"quantitative","scale":{"domain":[0,7],"nice":false,"zero":false},"axis":{"values":[2,3,4,5],"title":"2nd"}},
     "y":{"field":"y","type":"quantitative","scale":{"domain":[-8,2],"nice":false,"zero":false},"axis":{"values":[-6,-4,-2,0,2],"title":null}}},
   "layer":[
     {"data":{"name":"pts"},"transform":[{"filter":"datum.p==2"}],"mark":{"type":"point","filled":false,"size":190,"strokeWidth":1.4,"opacity":0.85},
      "encoding":{"color":{"field":"c","type":"nominal","legend":null,"scale":{"domain":["r","g","b","c","k","pu"],"range":["#ea4a44","#3ad23a","#3b3bd0","#44dde6","#333333","#8a80e6"]}},
                  "shape":{"field":"m","type":"nominal","legend":null,"scale":{"domain":["circle","square","diamond"],"range":["circle","square","diamond"]}}}},
     {"data":{"name":"boxes"},"transform":[{"filter":"datum.p==2"}],"mark":{"type":"rect","fill":"#ffffff","stroke":"#a0a0a0","strokeWidth":1.5},"encoding":{"x2":{"field":"x0"},"y2":{"field":"y0"}}},
     {"data":{"name":"labels"},"transform":[{"filter":"datum.p==2"}],"mark":{"type":"text","align":"left","baseline":"middle","font":"Lato","fontSize":14.5,"color":"#b3191c"},"encoding":{"text":{"field":"t"}}}
   ]},
  {"width":243,"height":150,
   "encoding":{
     "x":{"field":"x","type":"quantitative","scale":{"domain":[0,7],"nice":false,"zero":false},"axis":{"values":[3,4],"title":"3rd"}},
     "y":{"field":"y","type":"quantitative","scale":{"domain":[-8,2],"nice":false,"zero":false},"axis":{"values":[-6,-4,-2,0,2],"title":null}}},
   "layer":[
     {"data":{"name":"pts"},"transform":[{"filter":"datum.p==3"}],"mark":{"type":"point","filled":false,"size":190,"strokeWidth":1.4,"opacity":0.85},
      "encoding":{"color":{"field":"c","type":"nominal","legend":null,"scale":{"domain":["r","g","b","c","k","pu"],"range":["#ea4a44","#3ad23a","#3b3bd0","#44dde6","#333333","#8a80e6"]}},
                  "shape":{"field":"m","type":"nominal","legend":null,"scale":{"domain":["circle","square","diamond"],"range":["circle","square","diamond"]}}}},
     {"data":{"name":"ell"},"transform":[{"filter":"datum.p==3"}],"mark":{"type":"point","shape":"M -1 0 A 1 0.58 0 1 0 1 0 A 1 0.58 0 1 0 -1 0 Z","size":9216,"angle":335,"filled":false,"color":"#3e5a78","stroke":"#3e5a78","strokeWidth":2.2,"opacity":1}},
     {"data":{"name":"ring"},"mark":{"type":"point","shape":"circle","size":616,"filled":false,"color":"#3e5a78","stroke":"#3e5a78","strokeWidth":2.2,"opacity":1}},
     {"data":{"name":"arr"},"transform":[{"filter":"datum.id=='o1'"}],"mark":{"type":"rule","color":"#8cb4dc","strokeWidth":1.3},"encoding":{"x2":{"field":"x0"},"y2":{"field":"y0"}}},
     {"data":{"name":"arr"},"transform":[{"filter":"datum.id=='o1'"}],"mark":{"type":"point","shape":"triangle-right","angle":127,"size":150,"filled":true,"color":"#4a8fd0","opacity":1}},
     {"data":{"name":"arr"},"transform":[{"filter":"datum.id=='o9'"}],"mark":{"type":"rule","color":"#8cb4dc","strokeWidth":1.3},"encoding":{"x2":{"field":"x0"},"y2":{"field":"y0"}}},
     {"data":{"name":"arr"},"transform":[{"filter":"datum.id=='o9'"}],"mark":{"type":"point","shape":"triangle-right","angle":121,"size":150,"filled":true,"color":"#4a8fd0","opacity":1}},
     {"data":{"name":"boxes"},"transform":[{"filter":"datum.p==3"}],"mark":{"type":"rect","fill":"#ffffff","stroke":"#a0a0a0","strokeWidth":1.5},"encoding":{"x2":{"field":"x0"},"y2":{"field":"y0"}}},
     {"data":{"name":"labels"},"transform":[{"filter":"datum.p==3"}],"mark":{"type":"text","align":"left","baseline":"middle","font":"Lato","fontSize":16.5,"color":"#3a7dbd"},"encoding":{"text":{"field":"t"}}}
   ]},
  {"width":243,"height":150,
   "encoding":{
     "x":{"field":"x","type":"quantitative","scale":{"domain":[0,7],"nice":false,"zero":false},"axis":{"values":[1,2,3,4,5,6,7],"title":"4th"}},
     "y":{"field":"y","type":"quantitative","scale":{"domain":[-8,2],"nice":false,"zero":false},"axis":{"values":[-6,-4,-2,0,2],"title":null}}},
   "layer":[
     {"data":{"name":"pts"},"transform":[{"filter":"datum.p==4"}],"mark":{"type":"point","filled":false,"size":190,"strokeWidth":1.4,"opacity":0.85},
      "encoding":{"color":{"field":"c","type":"nominal","legend":null,"scale":{"domain":["r","g","b","c","k","pu"],"range":["#ea4a44","#3ad23a","#3b3bd0","#44dde6","#333333","#8a80e6"]}},
                  "shape":{"field":"m","type":"nominal","legend":null,"scale":{"domain":["circle","square","diamond"],"range":["circle","square","diamond"]}}}},
     {"data":{"name":"boxes"},"transform":[{"filter":"datum.p==4"}],"mark":{"type":"rect","fill":"#ffffff","stroke":"#a0a0a0","strokeWidth":1.5},"encoding":{"x2":{"field":"x0"},"y2":{"field":"y0"}}},
     {"data":{"name":"labels"},"transform":[{"filter":"datum.p==4"}],"mark":{"type":"text","align":"left","baseline":"middle","font":"Lato","fontSize":16.5,"color":"#3a7dbd"},"encoding":{"text":{"field":"t"}}}
   ]},
  {"width":243,"height":150,"data":{"name":"pts"},"transform":[{"filter":"datum.p==5"}],"mark":{"type":"point","filled":false,"size":190,"strokeWidth":1.4,"opacity":0.85},
   "encoding":{
     "x":{"field":"x","type":"quantitative","scale":{"domain":[0,6],"nice":false,"zero":false},"axis":{"values":[0,1,2,3,4,5,6],"title":"5th"}},
     "y":{"field":"y","type":"quantitative","scale":{"domain":[-8,2],"nice":false,"zero":false},"axis":{"values":[-8,-6,-4,-2,0,2],"title":null}},
     "color":{"field":"c","type":"nominal","legend":null,"scale":{"domain":["r","g","b","c","k","pu"],"range":["#ea4a44","#3ad23a","#3b3bd0","#44dde6","#333333","#8a80e6"]}},
     "shape":{"field":"m","type":"nominal","legend":null,"scale":{"domain":["circle","square","diamond"],"range":["circle","square","diamond"]}}}},
  {"width":243,"height":150,"data":{"name":"pts"},"transform":[{"filter":"datum.p==6"}],"mark":{"type":"point","filled":false,"size":190,"strokeWidth":1.4,"opacity":0.85},
   "encoding":{
     "x":{"field":"x","type":"quantitative","scale":{"domain":[0,6],"nice":false,"zero":false},"axis":{"values":[0,1,2,3,4,5,6],"title":"6th"}},
     "y":{"field":"y","type":"quantitative","scale":{"domain":[-8,2],"nice":false,"zero":false},"axis":{"values":[-8,-6,-4,-2,0,2],"title":null}},
     "color":{"field":"c","type":"nominal","legend":null,"scale":{"domain":["r","g","b","c","k","pu"],"range":["#ea4a44","#3ad23a","#3b3bd0","#44dde6","#333333","#8a80e6"]}},
     "shape":{"field":"m","type":"nominal","legend":null,"scale":{"domain":["circle","square","diamond"],"range":["circle","square","diamond"]}}}},
  {"width":243,"height":150,"data":{"name":"pts"},"transform":[{"filter":"datum.p==7"}],"mark":{"type":"point","filled":false,"size":190,"strokeWidth":1.4,"opacity":0.85},
   "encoding":{
     "x":{"field":"x","type":"quantitative","scale":{"domain":[0,6],"nice":false,"zero":false},"axis":{"values":[0,1,2,3,4,5,6],"title":"7th"}},
     "y":{"field":"y","type":"quantitative","scale":{"domain":[-8,2],"nice":false,"zero":false},"axis":{"values":[-8,-6,-4,-2,0,2],"title":null}},
     "color":{"field":"c","type":"nominal","legend":null,"scale":{"domain":["r","g","b","c","k","pu"],"range":["#ea4a44","#3ad23a","#3b3bd0","#44dde6","#333333","#8a80e6"]}},
     "shape":{"field":"m","type":"nominal","legend":null,"scale":{"domain":["circle","square","diamond"],"range":["circle","square","diamond"]}}}},
  {"width":243,"height":150,"data":{"name":"pts"},"transform":[{"filter":"datum.p==8"}],"mark":{"type":"point","filled":false,"size":190,"strokeWidth":1.4,"opacity":0.85},
   "encoding":{
     "x":{"field":"x","type":"quantitative","scale":{"domain":[0,6],"nice":false,"zero":false},"axis":{"values":[0,1,2,3,4,5,6],"title":"8th"}},
     "y":{"field":"y","type":"quantitative","scale":{"domain":[-8,2],"nice":false,"zero":false},"axis":{"values":[-8,-6,-4,-2,0,2],"title":null}},
     "color":{"field":"c","type":"nominal","legend":null,"scale":{"domain":["r","g","b","c","k","pu"],"range":["#ea4a44","#3ad23a","#3b3bd0","#44dde6","#333333","#8a80e6"]}},
     "shape":{"field":"m","type":"nominal","legend":null,"scale":{"domain":["circle","square","diamond"],"range":["circle","square","diamond"]}}}},
  {"width":243,"height":150,"data":{"name":"pts"},"transform":[{"filter":"datum.p==9"}],"mark":{"type":"point","filled":false,"size":190,"strokeWidth":1.4,"opacity":0.85},
   "encoding":{
     "x":{"field":"x","type":"quantitative","scale":{"domain":[0,6],"nice":false,"zero":false},"axis":{"values":[0,1,2,3,4,5,6],"title":"9th"}},
     "y":{"field":"y","type":"quantitative","scale":{"domain":[-4,8],"nice":false,"zero":false},"axis":{"values":[-4,-2,0,2,4,6,8],"title":null}},
     "color":{"field":"c","type":"nominal","legend":null,"scale":{"domain":["r","g","b","c","k","pu"],"range":["#ea4a44","#3ad23a","#3b3bd0","#44dde6","#333333","#8a80e6"]}},
     "shape":{"field":"m","type":"nominal","legend":null,"scale":{"domain":["circle","square","diamond"],"range":["circle","square","diamond"]}}}},
  {"width":243,"height":150,"data":{"name":"pts"},"transform":[{"filter":"datum.p==10"}],"mark":{"type":"point","filled":false,"size":190,"strokeWidth":1.4,"opacity":0.85},
   "encoding":{
     "x":{"field":"x","type":"quantitative","scale":{"domain":[0,6],"nice":false,"zero":false},"axis":{"values":[0,1,2,3,4,5,6],"title":"10th"}},
     "y":{"field":"y","type":"quantitative","scale":{"domain":[-4,8],"nice":false,"zero":false},"axis":{"values":[-4,-2,0,2,4,6,8],"title":null}},
     "color":{"field":"c","type":"nominal","legend":null,"scale":{"domain":["r","g","b","c","k","pu"],"range":["#ea4a44","#3ad23a","#3b3bd0","#44dde6","#333333","#8a80e6"]}},
     "shape":{"field":"m","type":"nominal","legend":null,"scale":{"domain":["circle","square","diamond"],"range":["circle","square","diamond"]}}}},
  {"width":243,"height":150,"data":{"name":"pts"},"transform":[{"filter":"datum.p==11"}],"mark":{"type":"point","filled":false,"size":230,"strokeWidth":2.2,"opacity":0.9},
   "encoding":{
     "x":{"field":"x","type":"quantitative","scale":{"domain":[-50,150],"nice":false,"zero":false},"axis":{"values":[-50,0,50,100,150],"title":"11th"}},
     "y":{"field":"y","type":"quantitative","scale":{"domain":[-50,250],"nice":false,"zero":false},"axis":{"values":[-50,0,50,100,150,200,250],"title":null}},
     "color":{"field":"c","type":"nominal","legend":null,"scale":{"domain":["r","g","b","c","k","pu"],"range":["#ea4a44","#3ad23a","#3b3bd0","#44dde6","#333333","#8a80e6"]}},
     "shape":{"field":"m","type":"nominal","legend":null,"scale":{"domain":["circle","square","diamond"],"range":["circle","square","diamond"]}}}},
  {"width":243,"height":150,"data":{"name":"pts"},"transform":[{"filter":"datum.p==12"}],"mark":{"type":"point","filled":false,"size":230,"strokeWidth":2.2,"opacity":0.9},
   "encoding":{
     "x":{"field":"x","type":"quantitative","scale":{"domain":[-50,200],"nice":false,"zero":false},"axis":{"values":[-50,0,50,100,150,200],"title":"12th"}},
     "y":{"field":"y","type":"quantitative","scale":{"domain":[-50,300],"nice":false,"zero":false},"axis":{"values":[-50,0,50,100,150,200,250,300],"title":null}},
     "color":{"field":"c","type":"nominal","legend":null,"scale":{"domain":["r","g","b","c","k","pu"],"range":["#ea4a44","#3ad23a","#3b3bd0","#44dde6","#333333","#8a80e6"]}},
     "shape":{"field":"m","type":"nominal","legend":null,"scale":{"domain":["circle","square","diamond"],"range":["circle","square","diamond"]}}}}
]
}
